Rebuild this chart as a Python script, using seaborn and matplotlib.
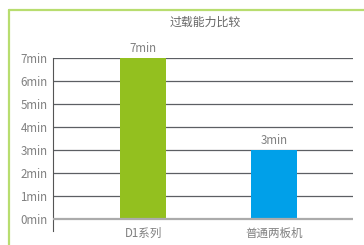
import matplotlib
matplotlib.use("Agg")
import matplotlib.pyplot as plt
import seaborn as sns
import pandas as pd
from matplotlib.lines import Line2D

# ── Data ──
categories = ["D1系列", "普通两板机"]
overload_minutes = [7, 3]
bar_colors = ["#93c01f", "#00a0e9"]
y_ticks = list(range(0, 8))
y_tick_labels = [f"{v}min" for v in y_ticks]
title = "过载能力比较"

sns.set_style("white")
plt.rcParams["font.family"] = ["Noto Sans CJK SC", "DejaVu Sans"]

df = pd.DataFrame({"category": categories, "minutes": overload_minutes})

fig = plt.figure(figsize=(3.64, 2.45), dpi=100)
ax = fig.add_axes([53 / 364, 1 - 231 / 245, 300 / 364, (231 - 58) / 245])

sns.barplot(data=df, x="category", y="minutes", hue="category",
            palette=bar_colors, width=0.35, legend=False, ax=ax,
            saturation=1, linewidth=0, zorder=3)

ax.set_xlim(-0.687, 1.603)
ax.set_ylim(-0.52, 7)
ax.set_yticks(y_ticks)
ax.set_yticklabels(y_tick_labels)
ax.set_xlabel("")
ax.set_ylabel("")

# gridlines
for v in y_ticks[1:]:
    ax.axhline(v, color="#5c5f63", lw=0.9, zorder=1)
ax.axhline(0, color="#ababab", lw=1.6, zorder=4)

for s in ["top", "right", "bottom"]:
    ax.spines[s].set_visible(False)
ax.spines["left"].set_color("#555555")
ax.spines["left"].set_linewidth(0.8)

ax.tick_params(axis="y", length=3, width=0.8, color="#555555",
               labelsize=8.3, labelcolor="#808080", pad=1)
ax.tick_params(axis="x", length=0, labelsize=8.3, labelcolor="#808080", pad=-3)

# value labels
for i, v in enumerate(overload_minutes):
    ax.text(i, v + 0.12, f"{v}min", ha="center", va="bottom",
            fontsize=8.3, color="#808080")

fig.text(205 / 364, 1 - 22 / 245, title, ha="center", va="center",
         fontsize=8.6, color="#666666")

# light green frame
fig.add_artist(Line2D([9 / 364, 1], [1 - 10 / 245, 1 - 10 / 245],
                      color="#b8dd6f", lw=1.6, transform=fig.transFigure))
fig.add_artist(Line2D([9 / 364, 9 / 364], [0, 1 - 10 / 245],
                      color="#b8dd6f", lw=1.6, transform=fig.transFigure))

fig.savefig("out.png", dpi=100)
